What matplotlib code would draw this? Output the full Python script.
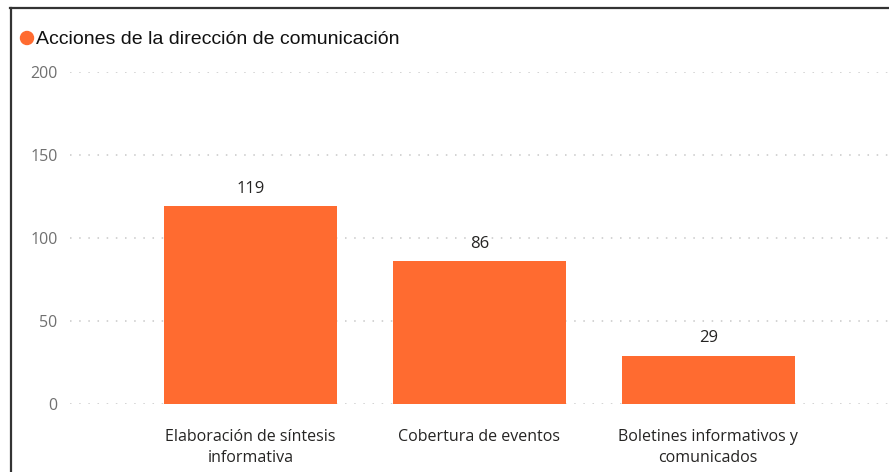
import matplotlib.pyplot as plt
from matplotlib.lines import Line2D
from matplotlib.patches import Ellipse

categorias = ["Elaboración de síntesis\ninformativa",
              "Cobertura de eventos",
              "Boletines informativos y\ncomunicados"]
acciones = [119, 86, 29]
ticks_y = [0, 50, 100, 150, 200]
titulo = "Acciones de la dirección de comunicación"

naranja = "#FF6B30"
W, H = 889, 472

fig = plt.figure(figsize=(W / 100, H / 100), dpi=100)
ax = fig.add_axes([70 / W, (H - 404) / H, 1 - 70 / W, 332 / H])

x = range(len(categorias))
barras = ax.bar(x, acciones, width=0.755, color=naranja, zorder=3)
for b, v in zip(barras, acciones):
    ax.annotate(str(v), (b.get_x() + b.get_width() / 2, v),
                xytext=(0, 7), textcoords="offset points",
                ha="center", va="bottom", fontsize=12,
                family="Open Sans", color="#252423")

ax.set_xlim(-0.79, 2.79)
ax.set_ylim(0, 200)
ax.set_yticks(ticks_y)
ax.set_xticks(list(x))
ax.set_xticklabels(categorias, fontsize=11.5, family="Open Sans",
                   color="#252423", linespacing=1.45)
ax.tick_params(axis="x", length=0, pad=18)
ax.tick_params(axis="y", length=0, pad=9, labelsize=11.5, labelcolor="#707070")
for lbl in ax.get_yticklabels():
    lbl.set_family("Open Sans")

ax.grid(axis="y", color="#c8c8c8", linestyle=(0, (1, 5)), linewidth=1.1, zorder=0)
for s in ax.spines.values():
    s.set_visible(False)

# titulo con marcador de la serie
fig.add_artist(Ellipse((27 / W, 1 - 38 / H), 13 / W, 13 / H,
                       transform=fig.transFigure, color=naranja))
fig.text(36 / W, 1 - 39 / H, titulo, ha="left", va="center",
         fontsize=14, family="Liberation Sans", color="#111111")

# marco superior e izquierdo
fig.add_artist(Line2D([10 / W, 1], [1 - 8 / H, 1 - 8 / H],
                      transform=fig.transFigure, color="#333333", linewidth=1.6))
fig.add_artist(Line2D([11 / W, 11 / W], [0, 1 - 8 / H],
                      transform=fig.transFigure, color="#333333", linewidth=1.6))

fig.savefig("out.png", dpi=100)
